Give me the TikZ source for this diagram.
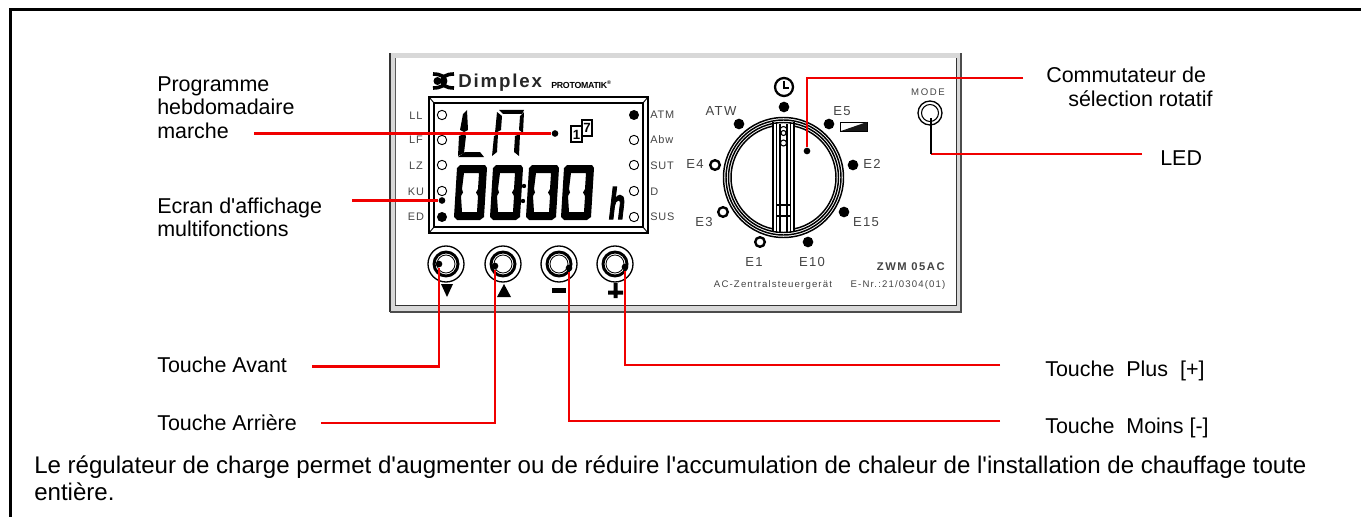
\documentclass[tikz,border=0pt]{standalone}
\usepackage{fontspec}
\setmainfont{Liberation Sans}[Ligatures=TeXOff]
\definecolor{ink}{HTML}{444444}
\definecolor{redline}{HTML}{F00000}
\definecolor{bandgray}{HTML}{D8D8D8}
\newcommand{\fs}[1]{\fontsize{#1}{#1}\selectfont}
\newcommand{\sevenzero}[2]{%
 \fill[even odd rule,xshift=#1*0.75pt,yshift=-#2*0.75pt]
 (6,0)--(31,0)--(33,3)--(30,52)--(26,55)--(3,55)--(0,52)--(3,3)--cycle
 (10,8)--(25,8)--(24,24)--(22,27.5)--(24,31)--(23,47)--(8,47)--(7,31)--(9,27.5)--(8,24)--cycle;}
\tikzset{
 x=0.75pt,y=-0.75pt,
 label/.style={font=\fs{16.1},text=black,anchor=base west,inner sep=0pt},
 para/.style={font=\fs{18.05},text=black,anchor=base west,inner sep=0pt},
 small/.style={font=\fs{8.2}\addfontfeature{LetterSpace=8},text=ink,inner sep=0pt},
 dial/.style={font=\fs{9.8}\addfontfeature{LetterSpace=10},text=ink,inner sep=0pt},
 tiny/.style={font=\fs{7.2}\addfontfeature{LetterSpace=12},text=ink,inner sep=0pt},
 lead/.style={draw=redline,line width=1.8pt},
 pdot/.style={circle,fill=black,inner sep=0pt,minimum size=8pt},
 odot/.style={circle,draw=black,line width=1.8pt,fill=white,inner sep=0pt,minimum size=7.2pt},
 led/.style={circle,draw=black,line width=0.7pt,fill=white,inner sep=0pt,minimum size=7pt},
 sdot/.style={circle,fill=black,inner sep=0pt,minimum size=7.5pt},
 tdot/.style={circle,fill=black,inner sep=0pt,minimum size=5pt},
}
\begin{document}
\begin{tikzpicture}
\useasboundingbox (0,0) rectangle (1361,517);
\fill[white] (0,0) rectangle (1361,517);
% outer frame
\draw[line width=2.2pt,line cap=butt] (10.3,517)--(10.3,9.3)--(1361,9.3);
% panel
\fill[bandgray] (390,53) rectangle (961,312);
\fill[white] (395,58) rectangle (956,305);
\draw[line width=0.9pt,draw=black!80] (390,312)--(390,53);
\draw[line width=0.9pt,draw=black!70] (390,312)--(961,312)--(961,53);
\draw[line width=0.7pt,draw=black!65] (395,305)--(395,58);
\draw[line width=0.7pt,draw=black!80] (395,305)--(956,305)--(956,58);
% logo
\fill (437.5,81) circle (4);
\draw[line width=2.7pt] (433,74) .. controls (441,74) and (445.5,77) .. (445.5,81) .. controls (445.5,85) and (441,88) .. (433,88);
\draw[line width=2.7pt] (454,74) .. controls (446,74) and (442,77) .. (442,81) .. controls (442,85) and (446,88) .. (454,88);
\node[inner sep=0pt,anchor=base west,text=black!85,font=\fs{14}\bfseries\addfontfeature{LetterSpace=10}] (brand) at (458,88) {Dimplex};
\node[inner sep=0pt,anchor=base west,font=\fs{6.6}\bfseries\addfontfeature{LetterSpace=-3}] (proto) at (551,89) {PROTOMATIK\textsuperscript{\fs{4}®}};
% display
\draw[line width=1.4pt] (429,97) rectangle (648,233);
\draw[line width=1.4pt] (434,103) rectangle (643,227);
\draw[line width=0.7pt] (429,97)--(434,103) (648,97)--(643,103) (429,233)--(434,227) (648,233)--(643,227);
% L A segments
\fill (463,114)--(467,110)--(468,130)--(464,132)--(460,130)--cycle;
\fill (459,136)--(464,134)--(466,136)--(464,153)--(458,156)--cycle;
\fill (458,157)--(465,152)--(480,152)--(484,157)--cycle;
\fill (499,110)--(524,110)--(522,114)--(503,114)--cycle;
\fill (497,112)--(502,116)--(501,130)--(495,133)--cycle;
\fill (520,116)--(524,112)--(523,133)--(519,130)--cycle;
\fill (494,136)--(498,134)--(497,152)--(492,156)--cycle;
\fill (515,136)--(520,134)--(519,156)--(514,152)--cycle;
% 17 icon
\draw[line width=1.5pt,fill=white] (582,120.5) rectangle (591.5,136);
\node[inner sep=0pt,font=\fs{10}\bfseries] (seven) at (587,128) {7};
\draw[line width=1.5pt,fill=white] (571,126) rectangle (581.5,142);
\node[inner sep=0pt,font=\fs{10}\bfseries] (one) at (576.5,134.5) {1};
% digits
\sevenzero{454}{165}
\sevenzero{490}{165}
\sevenzero{526}{165}
\sevenzero{561}{165}
\fill (524,186) circle (2.2) (523,201) circle (2.2);
\node[inner sep=0pt,anchor=base,transform shape,xscale=0.6,font=\fs{33}\bfseries\itshape\addfontfeature{FakeBold=3}] (hunit) at (617,219) {h};
% side lamps
\foreach \y/\n in {115/a,140/b,165/c,191/d}{\node[led] (l\n) at (442,\y) {};}
\node[sdot] (ledon) at (442,217) {};
\node[sdot] (ratm) at (634,115) {};
\foreach \y/\n in {140/b,165/c,191/d,217/e}{\node[led] (r\n) at (634,\y) {};}
\foreach \y/\t in {116/LL,140/LF,166/LZ,192/KU,217/ED}{\node[small,anchor=center] at (416,\y) {\t};}
\foreach \y/\t in {115/ATM,140/Abw,166/SUT,192/D,217/SUS}{\node[small,anchor=west] at (650,\y) {\t};}
% buttons
\foreach \x/\n in {446/p,503/q,559/r,615/s}{
 \draw[line width=1pt] (\x,264) circle (18);
 \draw[line width=2.2pt] (\x,264) circle (12);
 \draw[line width=0.6pt] (\x,264) circle (9);
}
\fill (441,284)--(453,284)--(447,297)--cycle;
\fill (497,297)--(511,297)--(504,284)--cycle;
\fill (552,288) rectangle (566,293);
\fill (608,290.5) rectangle (623,294.5) (613.5,283) rectangle (617.5,298);
% knob
\foreach \r in {60,57.5,55,52.5}{\draw[line width=1.1pt] (783.5,177.5) circle (\r);}
\fill[white] (773,124) rectangle (794,231);
\draw[line width=1.1pt] (773,122)--(773,232) (776.5,122)--(776.5,233) (790.5,122)--(790.5,233) (794,122)--(794,232);
\draw[line width=1.1pt] (780,124)--(780,233) (787,124)--(787,233);
\draw[line width=0.8pt] (780,130) arc (180:360:3.5);
\draw[line width=0.8pt] (783.5,133) circle (2.5) (783.5,143) circle (3);
\draw[line width=1pt] (776.5,205)--(790.5,205) (776.5,216)--(790.5,216);
% dial marks
\foreach \x/\y/\n in {784/107/m1,739/124/m2,829/124/m3,853/165/m4,844/212/m5,808/242/m6}{\node[pdot] (\n) at (\x,\y) {};}
\foreach \x/\y/\n in {715/165/n1,723/212/n2,760/242/n3}{\node[odot] (\n) at (\x,\y) {};}
\draw[line width=1.7pt] (784,87) circle (9);
\draw[line width=1.7pt] (784,81)--(784,88)--(789,88);
\draw[line width=0.7pt,fill=white] (840,122) rectangle (867,131);
\fill[black!90] (841,131)--(867,122)--(867,131)--cycle;
\foreach \x/\y/\t in {721/111/ATW,842/111/E5,872/164/E2,695/164/E4,704/222/E3,866/222/E15,754/262/E1,812/262/E10}{\node[dial] at (\x,\y) {\t};}
\node[tiny] (mode) at (928,92) {M\,O\,D\,E};
\node[inner sep=0pt,text=ink,anchor=east,font=\fs{8.4}\bfseries\addfontfeature{LetterSpace=14}] (zwm) at (945,267) {ZWM 05AC};
\node[tiny,anchor=center] (acz) at (773,285) {AC-Zentralsteuergerät};
\node[tiny,anchor=center] (enr) at (898,285) {E-Nr.:21/0304(01)};
\draw[line width=1pt] (930,113) circle (12);
\draw[line width=0.8pt] (930,113) circle (8.5);
% labels
\node[label] (prog1) at (157,92) {Programme};
\node[label] (prog2) at (157,115) {hebdomadaire};
\node[label] (prog3) at (157,138) {marche};
\node[label] (ecr1) at (157,213) {Ecran d'affichage};
\node[label] (ecr2) at (157,236) {multifonctions};
\node[label] (av) at (157,372) {Touche Avant};
\node[label] (ar) at (157,430) {Touche Arrière};
\node[label] (co1) at (1046,83) {Commutateur de};
\node[label] (co2) at (1068,107) {sélection rotatif};
\node[label] (ledl) at (1160,166) {LED};
\node[label] (pl) at (1045,376) {Touche\ \ Plus\ \ [+]};
\node[label] (mo) at (1045,433) {Touche\ \ Moins [-]};
\node[para] (b1) at (34,473) {Le régulateur de charge permet d'augmenter ou de réduire l'accumulation de chaleur de l'installation de chauffage toute};
\node[para] (b2) at (34,500) {entière.};
% target points and leaders
\coordinate (fprog) at (254,133.5);
\coordinate (fecr) at (352,200.5);
\coordinate (fav) at (312,366.5);
\coordinate (far) at (321,423);
\coordinate (fmo) at (1000,421);
\coordinate (fpl) at (1000,365);
\coordinate (fco) at (1023,78);
\coordinate (fled) at (1142,154);
\node[tdot] (tprog) at (555,133.5) {};
\node[tdot] (tecr) at (442,200.5) {};
\node[tdot] (tav) at (439,264) {};
\node[tdot] (tar) at (495,266) {};
\node[tdot] (tmo) at (569,268) {};
\node[tdot] (tpl) at (625,267) {};
\node[tdot] (tco) at (807,151) {};
\coordinate (tled) at (931,118);
\coordinate (kled) at (931,154);
\draw[lead] (fprog)--(tprog);
\draw[lead] (fecr)--(tecr);
\draw[lead] (fav)-|(tav);
\draw[lead] (far)-|(tar);
\draw[lead] (fmo)-|(tmo);
\draw[lead] (fpl)-|(tpl);
\draw[lead] (fco)-|(tco);
\draw[lead] (fled)--(kled);
\draw[line width=1.8pt] (tled)--(kled);
\end{tikzpicture}
\end{document}
